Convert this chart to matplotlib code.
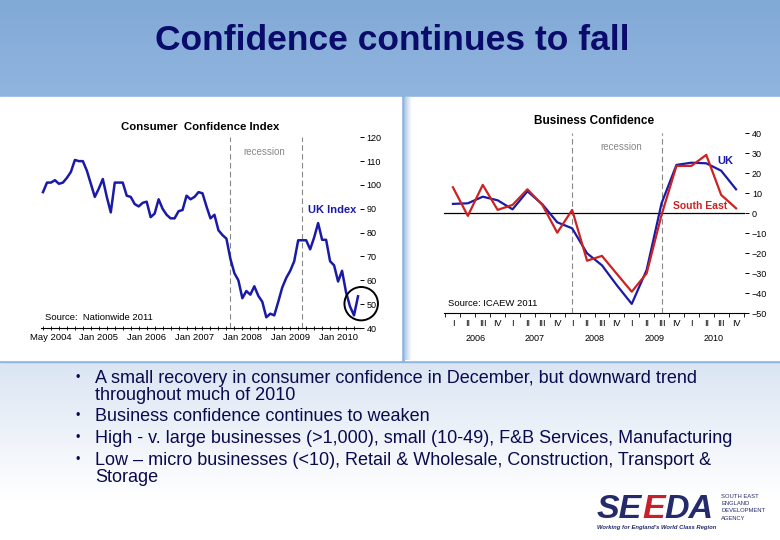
import matplotlib
matplotlib.use('Agg')
import matplotlib.pyplot as plt
import numpy as np
from matplotlib.patches import Rectangle, Ellipse

# ---------------- data ----------------
# Consumer Confidence Index (Nationwide), monthly May 2004 .. Dec 2010
consumer_index = [97, 101, 101, 102, 100.5, 101, 103, 105.5, 110.5, 110,
                  110, 106, 100.5, 95, 98.5, 102.5, 95, 88.5, 101, 101,
                  101, 95.5, 95, 92, 91, 92.5, 93, 86.5, 88, 94,
                  90, 87.5, 86, 86, 89, 89.5, 95.5, 94, 95, 97,
                  96.5, 91, 86, 87.5, 81, 79, 77.5, 69, 63, 60,
                  52.5, 55.5, 54, 57.5, 53.5, 51, 44.5, 46, 45.3, 51,
                  57, 61, 64, 68, 76.8, 76.8, 76.8, 73, 78, 84,
                  77, 77, 68, 66.3, 59.5, 64, 55, 49, 45.3, 53.3]
consumer_tick_labels = ['May 2004', 'Jan 2005', 'Jan 2006', 'Jan 2007',
                        'Jan 2008', 'Jan 2009', 'Jan 2010']
consumer_tick_pos = [2, 14, 26, 38, 50, 62, 74]
consumer_recession = [47, 65]
consumer_yticks = [40, 50, 60, 70, 80, 90, 100, 110, 120]

# Business Confidence (ICAEW), quarterly 2006 Q1 .. 2010 Q4
quarter_labels = ['I', 'II', 'III', 'IV'] * 5
year_labels = ['2006', '2007', '2008', '2009', '2010']
uk_business = [4.7, 5.0, 8.3, 6.5, 2.0, 11.0, 4.5, -4.5, -7.5, -20,
               -26, -36, -45.3, -28.3, 5, 24.2, 25.3, 25, 21.3, 12]
se_business = [13, -1.3, 14.2, 1.7, 4.2, 12, 4.2, -9.7, 1.7, -23.7,
               -21.3, -30.3, -39.2, -30, -0.8, 23.7, 23.7, 29.2, 9.2, 2.5]
business_recession = [8, 14]
business_yticks = [-50, -40, -30, -20, -10, 0, 10, 20, 30, 40]

bullets = [
    "A small recovery in consumer confidence in December, but downward trend\nthroughout much of 2010",
    "Business confidence continues to weaken",
    "High - v. large businesses (>1,000), small (10-49), F&B Services, Manufacturing",
    "Low \u2013 micro businesses (<10), Retail & Wholesale, Construction, Transport &\nStorage",
]

plt.rcParams['font.family'] = ['Liberation Sans', 'DejaVu Sans']

W, H = 780, 540
fig = plt.figure(figsize=(7.8, 5.4), dpi=100)

# ---------------- background ----------------
bg = fig.add_axes([0, 0, 1, 1])
bg.set_xlim(0, W)
bg.set_ylim(H, 0)
bg.axis('off')

top = np.linspace(0, 1, 50)[:, None]
c1 = np.array([0x82, 0xaa, 0xd6]) / 255
c2 = np.array([0x90, 0xb5, 0xdf]) / 255
grad = c1 + (c2 - c1) * top[..., None]
bg.imshow(np.repeat(grad, 2, axis=1), extent=[0, W, 97, 0], aspect='auto', zorder=0)

bg.add_patch(Rectangle((0, 96), W, 266, color='#8fb4de', zorder=0.5))

low = np.linspace(0, 1, 80)[:, None]
d1 = np.array([0xdb, 0xe5, 0xf3]) / 255
d2 = np.array([1.0, 1.0, 1.0])
g2 = d1 + (d2 - d1) * np.clip(low * 1.3, 0, 1)[..., None]
bg.imshow(np.repeat(g2, 2, axis=1), extent=[0, W, H, 362], aspect='auto', zorder=0)

bg.add_patch(Rectangle((0, 97), 401, 263, color='white', zorder=1))
bg.add_patch(Rectangle((405, 97), 375, 263, color='white', zorder=1))
edge = np.linspace(0, 1, 10)[None, :]
e1 = np.array([0xb8, 0xcf, 0xea]) / 255
eg = e1 + (d2 - e1) * edge[..., None]
bg.imshow(np.repeat(eg, 2, axis=0), extent=[405, 412, 360, 97], aspect='auto', zorder=1.1)

bg.text(392, 41, 'Confidence continues to fall', ha='center', va='center',
        fontsize=25.5, fontweight='bold', color='#0b0b6b', zorder=3)

# bullets
navy = '#0a0a4e'
bullet_y = [378, 416, 438, 460]
for y, txt in zip(bullet_y, bullets):
    bg.text(75, y, '\u2022', ha='left', va='center', fontsize=9, color=navy, zorder=3)
    bg.text(95, y - 8, txt, ha='left', va='top', fontsize=13, color=navy,
            linespacing=0.98, zorder=3)

# logo (letters chained so they never overlap)
logo_kw = dict(fontsize=24.5, fontweight='bold', style='italic', zorder=3)
t1 = bg.text(597, 509, 'SE', ha='left', va='center', color='#242a6c', **logo_kw)
t2 = bg.annotate('E', xy=(1, 0.5), xycoords=t1, ha='left', va='center',
                 color='#c8202a', **logo_kw)
t3 = bg.annotate('DA', xy=(1, 0.5), xycoords=t2, ha='left', va='center',
                 color='#242a6c', **logo_kw)
for i, t in enumerate(['SOUTH EAST', 'ENGLAND', 'DEVELOPMENT', 'AGENCY']):
    bg.text(721, 496 + i * 7.5, t, ha='left', va='center', fontsize=4.2, color='#242a6c', zorder=3)
bg.text(597, 528, "Working for England's World Class Region", ha='left', va='center',
        fontsize=4.2, style='italic', fontweight='bold', color='#242a6c', zorder=3)

# ---------------- consumer chart ----------------
blue = '#1a1aa8'
axL = fig.add_axes([41.4 / W, 1 - 328 / H, 318.2 / W, (328 - 137.3) / H])
axL.set_facecolor('none')
m = np.arange(len(consumer_index))
axL.plot(m, consumer_index, color=blue, lw=1.8, zorder=3)
axL.set_xlim(-0.4, 79.4)
axL.set_ylim(40, 120)
for r in consumer_recession:
    axL.axvline(r, color='#888888', lw=0.8, ls=(0, (5, 3)), zorder=2)
for s in ['left', 'top', 'right']:
    axL.spines[s].set_visible(False)
axL.spines['bottom'].set_linewidth(0.8)
axL.yaxis.tick_right()
axL.set_yticks(consumer_yticks)
axL.set_yticklabels([str(v) for v in consumer_yticks])
axL.tick_params(axis='y', length=3, width=0.7, labelsize=6.5, pad=2)
axL.set_xticks(np.arange(0, 80, 2))
axL.set_xticklabels([])
axL.tick_params(axis='x', length=2.5, width=0.6, direction='inout')
for p, t in zip(consumer_tick_pos, consumer_tick_labels):
    axL.text(p, 36.2, t, ha='center', va='center', fontsize=6.8, clip_on=False)
axL.text(39.5, 124.5, 'Consumer  Confidence Index', ha='center', va='center',
         fontsize=8.2, fontweight='bold', clip_on=False)
axL.text(55.6, 113.7, 'recession', ha='center', va='center', fontsize=7, color='#888888')
axL.text(72.6, 89.7, 'UK Index', ha='center', va='center', fontsize=8,
         fontweight='bold', color=blue)
axL.text(0.5, 44.2, 'Source:  Nationwide 2011', ha='left', va='center', fontsize=6.8)
axL.add_patch(Ellipse((79.8, 50.2), 8.4, 14, fill=False, ec='black', lw=1.4,
                      clip_on=False, zorder=4))

# ---------------- business chart ----------------
red = '#cc2222'
axR = fig.add_axes([444 / W, 1 - 313.3 / H, 301 / W, 180 / H])
axR.set_facecolor('none')
q = np.arange(len(uk_business))
axR.plot(q, uk_business, color=blue, lw=1.6, zorder=3)
axR.plot(q, se_business, color=red, lw=1.6, zorder=4)
axR.set_xlim(-0.6, 19.6)
axR.set_ylim(-50, 40)
axR.axhline(0, color='black', lw=0.9, zorder=2)
for r in business_recession:
    axR.axvline(r, color='#888888', lw=0.8, ls=(0, (5, 3)), zorder=2)
for s in ['left', 'top', 'right']:
    axR.spines[s].set_visible(False)
axR.spines['bottom'].set_linewidth(0.8)
axR.yaxis.tick_right()
axR.set_yticks(business_yticks)
axR.tick_params(axis='y', length=3, width=0.7, labelsize=6.5, pad=2)
axR.set_xticks(np.arange(-0.5, 20, 1))
axR.set_xticklabels([])
axR.tick_params(axis='x', length=3, width=0.6, direction='out')
for i, t in enumerate(quarter_labels):
    axR.text(i, -55, t, ha='center', va='center', fontsize=6.5, clip_on=False)
for k, t in enumerate(year_labels):
    axR.text(1.5 + 4 * k, -62.5, t, ha='center', va='center', fontsize=6.5, clip_on=False)
axR.text(9.5, 46, 'Business Confidence', ha='center', va='center', fontsize=8.5,
         fontweight='bold', clip_on=False)
axR.text(11.3, 33.3, 'recession', ha='center', va='center', fontsize=7, color='#888888')
axR.text(18.3, 26.3, 'UK', ha='center', va='center', fontsize=8, fontweight='bold', color=blue)
axR.text(16.6, 3.7, 'South East', ha='center', va='center', fontsize=7.5,
         fontweight='bold', color=red)
axR.text(-0.35, -45.3, 'Source: ICAEW 2011', ha='left', va='center', fontsize=6.8)

fig.savefig('out.png', dpi=100)
